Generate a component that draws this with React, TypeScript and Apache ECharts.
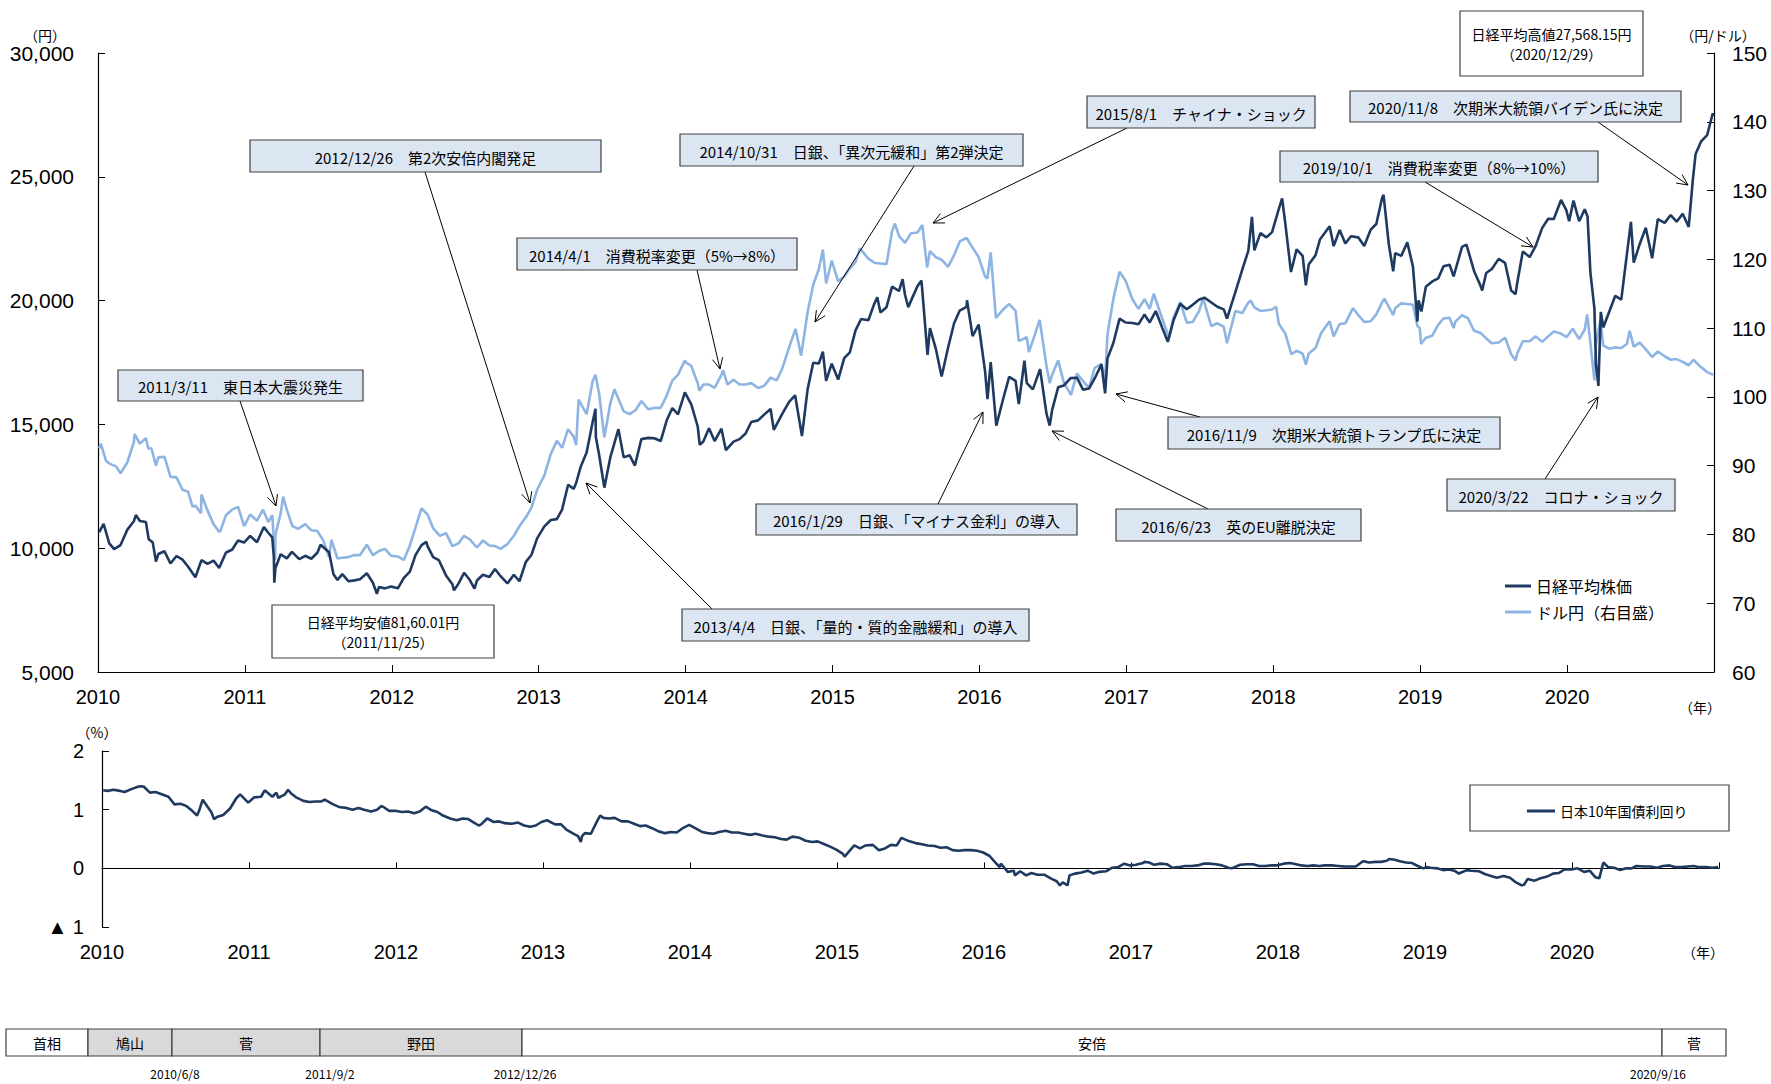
import React, { useEffect, useRef } from "react";
import * as echarts from "echarts";

// ---------------- DATA ----------------
const yearTicks = [2010, 2011, 2012, 2013, 2014, 2015, 2016, 2017, 2018, 2019, 2020];

const nikkei: [string, number][] = [
  ["2010-01-04", 10654], ["2010-01-15", 10982], ["2010-01-29", 10198], ["2010-02-10", 9963], ["2010-02-26", 10126],
  ["2010-03-15", 10751], ["2010-03-31", 11089], ["2010-04-05", 11339], ["2010-04-15", 11102], ["2010-04-30", 11057],
  ["2010-05-07", 10364], ["2010-05-17", 10235], ["2010-05-25", 9459], ["2010-05-31", 9768], ["2010-06-15", 9879],
  ["2010-06-30", 9382], ["2010-07-15", 9685], ["2010-07-30", 9537], ["2010-08-13", 9253], ["2010-08-31", 8824],
  ["2010-09-15", 9516], ["2010-09-30", 9369], ["2010-10-15", 9500], ["2010-10-29", 9202], ["2010-11-15", 9827],
  ["2010-11-30", 9937], ["2010-12-15", 10310], ["2010-12-30", 10229],
  ["2011-01-14", 10499], ["2011-01-31", 10238], ["2011-02-17", 10857], ["2011-02-28", 10624], ["2011-03-10", 10434],
  ["2011-03-14", 9620], ["2011-03-15", 8605], ["2011-03-18", 9207], ["2011-03-31", 9755], ["2011-04-15", 9591],
  ["2011-04-28", 9849], ["2011-05-16", 9558], ["2011-05-31", 9694], ["2011-06-15", 9574], ["2011-06-30", 9816],
  ["2011-07-08", 10137], ["2011-07-29", 9833], ["2011-08-09", 8944], ["2011-08-19", 8719], ["2011-08-31", 8955],
  ["2011-09-15", 8668], ["2011-09-30", 8700], ["2011-10-14", 8748], ["2011-10-31", 8988], ["2011-11-15", 8603],
  ["2011-11-25", 8160], ["2011-11-30", 8435], ["2011-12-15", 8377], ["2011-12-30", 8455],
  ["2012-01-16", 8378], ["2012-01-31", 8803], ["2012-02-15", 9052], ["2012-02-29", 9723], ["2012-03-15", 10123],
  ["2012-03-27", 10255], ["2012-03-30", 10084], ["2012-04-13", 9638], ["2012-04-27", 9521], ["2012-05-15", 8901],
  ["2012-05-31", 8543], ["2012-06-04", 8296], ["2012-06-15", 8569], ["2012-06-29", 9007], ["2012-07-13", 8725],
  ["2012-07-25", 8366], ["2012-07-31", 8695], ["2012-08-15", 8929], ["2012-08-31", 8840], ["2012-09-14", 9159],
  ["2012-09-28", 8870], ["2012-10-15", 8578], ["2012-10-31", 8928], ["2012-11-14", 8665], ["2012-11-30", 9446],
  ["2012-12-14", 9737], ["2012-12-28", 10395],
  ["2013-01-15", 10879], ["2013-01-31", 11139], ["2013-02-15", 11173], ["2013-02-28", 11559], ["2013-03-15", 12560],
  ["2013-03-29", 12398], ["2013-04-04", 12634], ["2013-04-15", 13275], ["2013-04-30", 13861], ["2013-05-15", 15096],
  ["2013-05-22", 15627], ["2013-05-23", 14484], ["2013-05-31", 13775], ["2013-06-13", 12445], ["2013-06-28", 13677],
  ["2013-07-18", 14809], ["2013-07-31", 13668], ["2013-08-15", 13752], ["2013-08-28", 13338], ["2013-09-13", 14405],
  ["2013-09-30", 14456], ["2013-10-15", 14441], ["2013-10-31", 14328], ["2013-11-15", 15166], ["2013-11-29", 15662],
  ["2013-12-13", 15403], ["2013-12-30", 16291],
  ["2014-01-15", 15809], ["2014-01-31", 14915], ["2014-02-05", 14181], ["2014-02-14", 14313], ["2014-02-28", 14841],
  ["2014-03-14", 14327], ["2014-03-31", 14828], ["2014-04-11", 13960], ["2014-04-30", 14304], ["2014-05-15", 14405],
  ["2014-05-30", 14632], ["2014-06-13", 15098], ["2014-06-30", 15162], ["2014-07-15", 15395], ["2014-07-31", 15621],
  ["2014-08-08", 14779], ["2014-08-29", 15425], ["2014-09-15", 15911], ["2014-09-30", 16174], ["2014-10-17", 14532],
  ["2014-10-31", 16414], ["2014-11-14", 17491], ["2014-11-28", 17460], ["2014-12-08", 17935], ["2014-12-16", 16756],
  ["2014-12-30", 17451],
  ["2015-01-15", 16809], ["2015-01-30", 17674], ["2015-02-13", 17913], ["2015-02-27", 18798], ["2015-03-13", 19254],
  ["2015-03-31", 19207], ["2015-04-15", 19886], ["2015-04-22", 20134], ["2015-04-30", 19520], ["2015-05-15", 19733],
  ["2015-05-29", 20563], ["2015-06-15", 20387], ["2015-06-24", 20868], ["2015-06-30", 20236], ["2015-07-08", 19737],
  ["2015-07-31", 20585], ["2015-08-10", 20808], ["2015-08-25", 17806], ["2015-08-31", 18890], ["2015-09-15", 18026],
  ["2015-09-29", 16931], ["2015-10-15", 18097], ["2015-10-30", 19083], ["2015-11-13", 19597], ["2015-11-30", 19747],
  ["2015-12-01", 20012], ["2015-12-15", 18565], ["2015-12-30", 19034],
  ["2016-01-15", 17147], ["2016-01-21", 16017], ["2016-01-29", 17518], ["2016-02-12", 14953], ["2016-02-29", 16027],
  ["2016-03-15", 16923], ["2016-03-31", 16759], ["2016-04-08", 15822], ["2016-04-22", 17572], ["2016-04-28", 16666],
  ["2016-05-13", 16412], ["2016-05-31", 17235], ["2016-06-16", 15434], ["2016-06-24", 14952], ["2016-06-30", 15576],
  ["2016-07-15", 16497], ["2016-07-29", 16569], ["2016-08-15", 16870], ["2016-08-31", 16887], ["2016-09-15", 16405],
  ["2016-09-30", 16450], ["2016-10-14", 16856], ["2016-10-31", 17425], ["2016-11-09", 16251], ["2016-11-15", 17668],
  ["2016-11-30", 18308], ["2016-12-15", 19274], ["2016-12-30", 19114],
  ["2017-01-16", 19095], ["2017-01-31", 19041], ["2017-02-15", 19437], ["2017-02-28", 19119], ["2017-03-15", 19577],
  ["2017-03-31", 18909], ["2017-04-14", 18335], ["2017-04-28", 19197], ["2017-05-15", 19869], ["2017-05-31", 19651],
  ["2017-06-15", 19831], ["2017-06-30", 20033], ["2017-07-14", 20118], ["2017-07-31", 19925], ["2017-08-15", 19753],
  ["2017-08-31", 19646], ["2017-09-08", 19275], ["2017-09-29", 20356], ["2017-10-16", 21255], ["2017-10-31", 22012],
  ["2017-11-09", 23382], ["2017-11-15", 22028], ["2017-11-30", 22725], ["2017-12-15", 22553], ["2017-12-29", 22765],
  ["2018-01-15", 23714], ["2018-01-23", 24124], ["2018-01-31", 23098], ["2018-02-14", 21154], ["2018-02-28", 22068],
  ["2018-03-15", 21804], ["2018-03-23", 20617], ["2018-03-30", 21454], ["2018-04-16", 21835], ["2018-04-27", 22468],
  ["2018-05-21", 23002], ["2018-05-31", 22202], ["2018-06-15", 22852], ["2018-06-29", 22305], ["2018-07-13", 22597],
  ["2018-07-31", 22554], ["2018-08-15", 22205], ["2018-08-31", 22865], ["2018-09-14", 23095], ["2018-09-28", 24120],
  ["2018-10-02", 24270], ["2018-10-15", 22271], ["2018-10-26", 21185], ["2018-10-31", 21920], ["2018-11-15", 21804],
  ["2018-11-30", 22351], ["2018-12-14", 21374], ["2018-12-25", 19155], ["2018-12-28", 20015],
  ["2019-01-04", 19562], ["2019-01-15", 20555], ["2019-01-31", 20773], ["2019-02-15", 20900], ["2019-02-28", 21385],
  ["2019-03-15", 21451], ["2019-03-25", 20977], ["2019-03-29", 21206], ["2019-04-15", 22169], ["2019-04-26", 22259],
  ["2019-05-15", 21189], ["2019-05-31", 20601], ["2019-06-04", 20409], ["2019-06-14", 21117], ["2019-06-28", 21276],
  ["2019-07-15", 21685], ["2019-07-31", 21522], ["2019-08-15", 20406], ["2019-08-26", 20261], ["2019-08-30", 20704],
  ["2019-09-13", 21988], ["2019-09-30", 21756], ["2019-10-15", 22208], ["2019-10-31", 22927], ["2019-11-15", 23303],
  ["2019-11-29", 23294], ["2019-12-17", 24066], ["2019-12-30", 23657],
  ["2020-01-06", 23205], ["2020-01-17", 24041], ["2020-01-31", 23205], ["2020-02-14", 23688], ["2020-02-21", 23387],
  ["2020-02-28", 21143], ["2020-03-09", 19699], ["2020-03-13", 17431], ["2020-03-19", 16553], ["2020-03-25", 19546],
  ["2020-03-31", 18917], ["2020-04-15", 19550], ["2020-04-30", 20194], ["2020-05-15", 20037], ["2020-05-29", 21878],
  ["2020-06-08", 23178], ["2020-06-15", 21530], ["2020-06-30", 22288], ["2020-07-15", 22945], ["2020-07-31", 21710],
  ["2020-08-14", 23289], ["2020-08-31", 23140], ["2020-09-15", 23455], ["2020-09-30", 23185], ["2020-10-15", 23507],
  ["2020-10-30", 22977], ["2020-11-09", 24839], ["2020-11-16", 25907], ["2020-11-30", 26434], ["2020-12-15", 26687],
  ["2020-12-29", 27568], ["2020-12-30", 27444],
];

const usdjpy: [string, number][] = [
  ["2010-01-04", 92.5], ["2010-01-08", 93.2], ["2010-01-21", 90.7], ["2010-01-29", 90.3], ["2010-02-15", 89.9],
  ["2010-02-26", 88.9], ["2010-03-15", 90.5], ["2010-03-31", 93.4], ["2010-04-02", 94.6], ["2010-04-15", 93.2],
  ["2010-04-30", 94.0], ["2010-05-06", 92.5], ["2010-05-14", 92.5], ["2010-05-25", 90.0], ["2010-05-31", 91.2],
  ["2010-06-15", 91.3], ["2010-06-30", 88.4], ["2010-07-15", 88.3], ["2010-07-30", 86.5], ["2010-08-13", 86.2],
  ["2010-08-24", 84.0], ["2010-08-31", 84.2], ["2010-09-14", 83.1], ["2010-09-15", 85.8], ["2010-09-30", 83.5],
  ["2010-10-15", 81.5], ["2010-10-29", 80.4], ["2010-11-01", 80.5], ["2010-11-15", 82.8], ["2010-11-30", 83.6],
  ["2010-12-15", 84.0], ["2010-12-30", 81.2],
  ["2011-01-14", 82.9], ["2011-01-31", 82.0], ["2011-02-15", 83.6], ["2011-02-28", 81.8], ["2011-03-10", 82.8],
  ["2011-03-17", 76.3], ["2011-03-18", 80.0], ["2011-03-31", 83.1], ["2011-04-06", 85.5], ["2011-04-15", 83.6],
  ["2011-04-29", 81.2], ["2011-05-13", 80.8], ["2011-05-31", 81.5], ["2011-06-15", 80.6], ["2011-06-30", 80.5],
  ["2011-07-15", 79.1], ["2011-07-29", 76.7], ["2011-08-04", 79.2], ["2011-08-19", 76.5], ["2011-08-31", 76.6],
  ["2011-09-15", 76.7], ["2011-09-30", 77.0], ["2011-10-14", 77.0], ["2011-10-31", 78.5], ["2011-11-15", 77.0],
  ["2011-11-30", 77.6], ["2011-12-15", 77.9], ["2011-12-30", 76.9],
  ["2012-01-16", 76.8], ["2012-01-31", 76.3], ["2012-02-15", 78.4], ["2012-02-29", 81.0], ["2012-03-15", 83.8],
  ["2012-03-30", 82.9], ["2012-04-13", 80.9], ["2012-04-30", 79.8], ["2012-05-15", 80.2], ["2012-05-31", 78.3],
  ["2012-06-15", 78.7], ["2012-06-29", 79.8], ["2012-07-13", 79.3], ["2012-07-31", 78.1], ["2012-08-15", 79.1],
  ["2012-08-31", 78.4], ["2012-09-14", 78.3], ["2012-09-28", 77.9], ["2012-10-15", 78.6], ["2012-10-31", 79.8],
  ["2012-11-15", 81.3], ["2012-11-30", 82.5], ["2012-12-14", 83.9], ["2012-12-28", 86.5],
  ["2013-01-15", 88.6], ["2013-01-31", 91.7], ["2013-02-15", 93.6], ["2013-02-28", 92.6], ["2013-03-15", 95.3],
  ["2013-03-29", 94.2], ["2013-04-04", 93.0], ["2013-04-10", 99.6], ["2013-04-30", 97.5], ["2013-05-15", 102.3],
  ["2013-05-22", 103.2], ["2013-05-31", 100.5], ["2013-06-13", 94.1], ["2013-06-28", 99.1], ["2013-07-08", 101.1],
  ["2013-07-31", 97.9], ["2013-08-15", 97.5], ["2013-08-30", 98.1], ["2013-09-13", 99.4], ["2013-09-30", 98.2],
  ["2013-10-15", 98.4], ["2013-10-31", 98.4], ["2013-11-15", 100.2], ["2013-11-29", 102.4], ["2013-12-13", 103.2],
  ["2013-12-30", 105.3],
  ["2014-01-02", 105.0], ["2014-01-15", 104.5], ["2014-01-31", 102.0], ["2014-02-04", 100.9], ["2014-02-14", 101.8],
  ["2014-02-28", 101.8], ["2014-03-14", 101.3], ["2014-03-31", 103.2], ["2014-04-04", 103.9], ["2014-04-15", 101.8],
  ["2014-04-30", 102.5], ["2014-05-15", 101.8], ["2014-05-30", 101.8], ["2014-06-13", 102.0], ["2014-06-30", 101.3],
  ["2014-07-15", 101.6], ["2014-07-31", 102.8], ["2014-08-15", 102.4], ["2014-08-29", 104.1], ["2014-09-15", 107.2],
  ["2014-09-30", 109.7], ["2014-10-01", 109.9], ["2014-10-15", 106.0], ["2014-10-31", 112.3], ["2014-11-14", 116.3],
  ["2014-11-28", 118.6], ["2014-12-08", 121.4], ["2014-12-16", 116.5], ["2014-12-30", 119.8],
  ["2015-01-15", 116.8], ["2015-01-30", 117.5], ["2015-02-13", 118.7], ["2015-02-27", 119.6], ["2015-03-10", 121.6],
  ["2015-03-31", 120.1], ["2015-04-15", 119.5], ["2015-04-30", 119.4], ["2015-05-15", 119.3], ["2015-05-29", 124.1],
  ["2015-06-05", 125.2], ["2015-06-15", 123.4], ["2015-06-30", 122.4], ["2015-07-15", 123.8], ["2015-07-31", 123.9],
  ["2015-08-12", 125.0], ["2015-08-24", 118.8], ["2015-08-31", 121.2], ["2015-09-15", 120.3], ["2015-09-30", 119.9],
  ["2015-10-15", 118.9], ["2015-10-30", 120.6], ["2015-11-13", 122.6], ["2015-11-30", 123.1], ["2015-12-15", 121.7],
  ["2015-12-30", 120.3],
  ["2016-01-15", 117.5], ["2016-01-21", 117.2], ["2016-01-29", 121.0], ["2016-02-11", 111.5], ["2016-02-29", 112.7],
  ["2016-03-15", 113.5], ["2016-03-31", 112.5], ["2016-04-08", 108.1], ["2016-04-28", 108.7], ["2016-05-03", 106.5],
  ["2016-05-15", 108.5], ["2016-05-30", 111.2], ["2016-06-16", 104.5], ["2016-06-24", 102.0], ["2016-06-30", 103.2],
  ["2016-07-15", 105.3], ["2016-07-29", 102.1], ["2016-08-16", 100.3], ["2016-08-31", 103.4], ["2016-09-15", 102.3],
  ["2016-09-30", 101.3], ["2016-10-14", 104.2], ["2016-10-31", 104.8], ["2016-11-09", 102.5], ["2016-11-15", 109.1],
  ["2016-11-30", 114.4], ["2016-12-15", 118.2], ["2016-12-30", 116.9],
  ["2017-01-16", 114.2], ["2017-01-31", 112.8], ["2017-02-15", 114.2], ["2017-02-28", 112.8], ["2017-03-10", 115.0],
  ["2017-03-31", 111.4], ["2017-04-17", 108.6], ["2017-04-28", 111.5], ["2017-05-15", 113.8], ["2017-05-31", 110.8],
  ["2017-06-15", 110.9], ["2017-06-30", 112.4], ["2017-07-11", 114.3], ["2017-07-31", 110.3], ["2017-08-15", 110.7],
  ["2017-08-31", 110.2], ["2017-09-08", 107.8], ["2017-09-29", 112.5], ["2017-10-16", 112.2], ["2017-10-31", 113.7],
  ["2017-11-06", 114.0], ["2017-11-15", 113.0], ["2017-11-30", 112.5], ["2017-12-15", 112.6], ["2017-12-29", 112.7],
  ["2018-01-08", 113.1], ["2018-01-15", 110.6], ["2018-01-31", 109.2], ["2018-02-15", 106.2], ["2018-02-28", 106.7],
  ["2018-03-15", 106.3], ["2018-03-23", 104.7], ["2018-03-30", 106.3], ["2018-04-16", 107.1], ["2018-04-30", 109.3],
  ["2018-05-21", 111.0], ["2018-05-31", 108.8], ["2018-06-15", 110.6], ["2018-06-29", 110.7], ["2018-07-18", 112.9],
  ["2018-07-31", 111.9], ["2018-08-15", 110.9], ["2018-08-31", 111.0], ["2018-09-14", 112.0], ["2018-09-28", 113.7],
  ["2018-10-04", 114.3], ["2018-10-26", 111.9], ["2018-10-31", 112.9], ["2018-11-15", 113.6], ["2018-11-30", 113.5],
  ["2018-12-14", 113.4], ["2018-12-25", 110.3], ["2018-12-31", 110.0],
  ["2019-01-03", 107.7], ["2019-01-15", 108.6], ["2019-01-31", 108.9], ["2019-02-15", 110.5], ["2019-02-28", 111.4],
  ["2019-03-15", 111.5], ["2019-03-25", 110.0], ["2019-03-29", 110.9], ["2019-04-15", 111.9], ["2019-04-30", 111.4],
  ["2019-05-15", 109.6], ["2019-05-31", 109.3], ["2019-06-14", 108.5], ["2019-06-28", 107.8], ["2019-07-15", 107.9],
  ["2019-07-31", 108.6], ["2019-08-15", 106.2], ["2019-08-26", 105.3], ["2019-08-30", 106.3], ["2019-09-13", 108.1],
  ["2019-09-30", 108.1], ["2019-10-15", 108.8], ["2019-10-31", 108.0], ["2019-11-15", 108.8], ["2019-11-29", 109.5],
  ["2019-12-13", 109.3], ["2019-12-31", 108.7],
  ["2020-01-15", 109.9], ["2020-01-31", 108.4], ["2020-02-14", 109.8], ["2020-02-20", 112.0], ["2020-02-28", 107.9],
  ["2020-03-09", 102.4], ["2020-03-13", 107.7], ["2020-03-24", 111.2], ["2020-03-31", 107.5], ["2020-04-15", 107.0],
  ["2020-04-30", 107.2], ["2020-05-15", 107.1], ["2020-05-29", 107.7], ["2020-06-05", 109.6], ["2020-06-15", 107.3],
  ["2020-06-30", 107.9], ["2020-07-15", 106.9], ["2020-07-31", 105.8], ["2020-08-14", 106.6], ["2020-08-31", 105.9],
  ["2020-09-15", 105.4], ["2020-09-30", 105.5], ["2020-10-15", 105.1], ["2020-10-30", 104.6], ["2020-11-11", 105.4],
  ["2020-11-30", 104.3], ["2020-12-15", 103.6], ["2020-12-30", 103.2],
];

const jgb10y: [string, number][] = [
  ["2010-01-04", 1.33], ["2010-01-15", 1.32], ["2010-01-29", 1.34], ["2010-02-15", 1.32], ["2010-02-26", 1.30],
  ["2010-03-15", 1.35], ["2010-03-31", 1.39], ["2010-04-08", 1.40], ["2010-04-15", 1.39], ["2010-04-30", 1.29],
  ["2010-05-14", 1.30], ["2010-05-31", 1.26], ["2010-06-15", 1.22], ["2010-06-30", 1.09], ["2010-07-15", 1.10],
  ["2010-07-30", 1.06], ["2010-08-13", 0.98], ["2010-08-25", 0.90], ["2010-08-31", 1.00], ["2010-09-08", 1.17],
  ["2010-09-15", 1.10], ["2010-09-30", 0.95], ["2010-10-06", 0.84], ["2010-10-15", 0.88], ["2010-10-29", 0.91],
  ["2010-11-15", 1.02], ["2010-11-30", 1.19], ["2010-12-10", 1.26], ["2010-12-30", 1.12],
  ["2011-01-14", 1.21], ["2011-01-31", 1.22], ["2011-02-09", 1.33], ["2011-02-28", 1.22], ["2011-03-10", 1.29],
  ["2011-03-15", 1.20], ["2011-03-31", 1.26], ["2011-04-08", 1.34], ["2011-04-15", 1.28], ["2011-04-28", 1.21],
  ["2011-05-16", 1.15], ["2011-05-31", 1.13], ["2011-06-15", 1.14], ["2011-06-30", 1.14], ["2011-07-08", 1.17],
  ["2011-07-29", 1.09], ["2011-08-15", 1.04], ["2011-08-31", 1.03], ["2011-09-15", 1.00], ["2011-09-30", 1.03],
  ["2011-10-14", 1.00], ["2011-10-31", 0.97], ["2011-11-15", 1.00], ["2011-11-25", 1.06], ["2011-11-30", 1.05],
  ["2011-12-15", 0.98], ["2011-12-30", 0.98],
  ["2012-01-16", 0.96], ["2012-01-31", 0.97], ["2012-02-15", 0.94], ["2012-02-29", 0.97], ["2012-03-15", 1.05],
  ["2012-03-30", 0.99], ["2012-04-13", 0.96], ["2012-04-27", 0.90], ["2012-05-15", 0.85], ["2012-05-31", 0.82],
  ["2012-06-15", 0.85], ["2012-06-29", 0.84], ["2012-07-13", 0.78], ["2012-07-25", 0.73], ["2012-07-31", 0.75],
  ["2012-08-15", 0.85], ["2012-08-31", 0.79], ["2012-09-14", 0.80], ["2012-09-28", 0.77], ["2012-10-15", 0.76],
  ["2012-10-31", 0.78], ["2012-11-15", 0.73], ["2012-11-30", 0.71], ["2012-12-14", 0.73], ["2012-12-28", 0.79],
  ["2013-01-11", 0.82], ["2013-01-31", 0.75], ["2013-02-15", 0.75], ["2013-02-28", 0.66], ["2013-03-15", 0.60],
  ["2013-03-29", 0.55], ["2013-04-05", 0.45], ["2013-04-08", 0.55], ["2013-04-15", 0.60], ["2013-04-30", 0.59],
  ["2013-05-15", 0.80], ["2013-05-23", 0.90], ["2013-05-31", 0.86], ["2013-06-13", 0.85], ["2013-06-28", 0.86],
  ["2013-07-15", 0.80], ["2013-07-31", 0.80], ["2013-08-15", 0.76], ["2013-08-30", 0.72], ["2013-09-13", 0.73],
  ["2013-09-30", 0.68], ["2013-10-15", 0.63], ["2013-10-31", 0.60], ["2013-11-15", 0.62], ["2013-11-29", 0.61],
  ["2013-12-13", 0.68], ["2013-12-30", 0.74],
  ["2014-01-15", 0.68], ["2014-01-31", 0.62], ["2014-02-14", 0.60], ["2014-02-28", 0.59], ["2014-03-14", 0.62],
  ["2014-03-31", 0.64], ["2014-04-15", 0.61], ["2014-04-30", 0.61], ["2014-05-15", 0.59], ["2014-05-30", 0.57],
  ["2014-06-13", 0.59], ["2014-06-30", 0.56], ["2014-07-15", 0.54], ["2014-07-31", 0.53], ["2014-08-15", 0.50],
  ["2014-08-29", 0.49], ["2014-09-12", 0.54], ["2014-09-30", 0.52], ["2014-10-15", 0.47], ["2014-10-31", 0.45],
  ["2014-11-14", 0.46], ["2014-11-28", 0.42], ["2014-12-15", 0.37], ["2014-12-30", 0.32],
  ["2015-01-15", 0.25], ["2015-01-20", 0.20], ["2015-01-30", 0.28], ["2015-02-13", 0.39], ["2015-02-27", 0.34],
  ["2015-03-13", 0.39], ["2015-03-31", 0.40], ["2015-04-15", 0.31], ["2015-04-30", 0.34], ["2015-05-15", 0.40],
  ["2015-05-29", 0.39], ["2015-06-10", 0.52], ["2015-06-30", 0.46], ["2015-07-15", 0.43], ["2015-07-31", 0.41],
  ["2015-08-14", 0.39], ["2015-08-31", 0.38], ["2015-09-15", 0.35], ["2015-09-30", 0.36], ["2015-10-15", 0.31],
  ["2015-10-30", 0.30], ["2015-11-13", 0.31], ["2015-11-30", 0.31], ["2015-12-15", 0.30], ["2015-12-30", 0.27],
  ["2016-01-15", 0.21], ["2016-01-29", 0.10], ["2016-02-09", 0.02], ["2016-02-12", 0.08], ["2016-02-29", -0.06],
  ["2016-03-15", -0.04], ["2016-03-18", -0.12], ["2016-03-31", -0.05], ["2016-04-15", -0.12], ["2016-04-28", -0.08],
  ["2016-05-13", -0.11], ["2016-05-31", -0.11], ["2016-06-15", -0.17], ["2016-06-24", -0.20], ["2016-06-30", -0.22],
  ["2016-07-08", -0.29], ["2016-07-15", -0.24], ["2016-07-27", -0.29], ["2016-08-01", -0.12], ["2016-08-15", -0.09],
  ["2016-08-31", -0.07], ["2016-09-15", -0.04], ["2016-09-30", -0.09], ["2016-10-14", -0.06], ["2016-10-31", -0.05],
  ["2016-11-15", 0.01], ["2016-11-30", 0.02], ["2016-12-15", 0.08], ["2016-12-30", 0.05],
  ["2017-01-13", 0.06], ["2017-01-31", 0.09], ["2017-02-03", 0.11], ["2017-02-15", 0.10], ["2017-02-28", 0.06],
  ["2017-03-15", 0.08], ["2017-03-31", 0.07], ["2017-04-14", 0.01], ["2017-04-28", 0.02], ["2017-05-15", 0.04],
  ["2017-05-31", 0.04], ["2017-06-15", 0.05], ["2017-06-30", 0.08], ["2017-07-14", 0.08], ["2017-07-31", 0.07],
  ["2017-08-15", 0.05], ["2017-08-31", 0.01], ["2017-09-08", 0.00], ["2017-09-29", 0.06], ["2017-10-16", 0.07],
  ["2017-10-31", 0.07], ["2017-11-15", 0.04], ["2017-11-30", 0.04], ["2017-12-15", 0.05], ["2017-12-29", 0.05],
  ["2018-01-15", 0.08], ["2018-01-31", 0.09], ["2018-02-15", 0.07], ["2018-02-28", 0.05], ["2018-03-15", 0.04],
  ["2018-03-30", 0.05], ["2018-04-13", 0.04], ["2018-04-27", 0.05], ["2018-05-15", 0.05], ["2018-05-31", 0.04],
  ["2018-06-15", 0.03], ["2018-06-29", 0.03], ["2018-07-13", 0.03], ["2018-07-31", 0.12], ["2018-08-02", 0.12],
  ["2018-08-15", 0.10], ["2018-08-31", 0.11], ["2018-09-14", 0.11], ["2018-09-28", 0.13], ["2018-10-04", 0.16],
  ["2018-10-15", 0.15], ["2018-10-31", 0.12], ["2018-11-15", 0.10], ["2018-11-30", 0.09], ["2018-12-14", 0.04],
  ["2018-12-28", 0.00],
  ["2019-01-04", 0.02], ["2019-01-15", 0.01], ["2019-01-31", 0.00], ["2019-02-15", -0.03], ["2019-02-28", -0.02],
  ["2019-03-15", -0.04], ["2019-03-26", -0.09], ["2019-03-29", -0.08], ["2019-04-15", -0.03], ["2019-04-26", -0.04],
  ["2019-05-15", -0.05], ["2019-05-31", -0.10], ["2019-06-14", -0.13], ["2019-06-28", -0.16], ["2019-07-15", -0.13],
  ["2019-07-31", -0.16], ["2019-08-15", -0.24], ["2019-08-29", -0.29], ["2019-09-04", -0.28], ["2019-09-13", -0.18],
  ["2019-09-30", -0.21], ["2019-10-15", -0.17], ["2019-10-31", -0.14], ["2019-11-15", -0.09], ["2019-11-29", -0.08],
  ["2019-12-13", -0.02], ["2019-12-31", -0.02],
  ["2020-01-15", 0.00], ["2020-01-31", -0.06], ["2020-02-14", -0.04], ["2020-02-28", -0.15], ["2020-03-09", -0.17],
  ["2020-03-19", 0.10], ["2020-03-31", 0.02], ["2020-04-15", 0.01], ["2020-04-30", -0.03], ["2020-05-15", 0.00],
  ["2020-05-29", 0.00], ["2020-06-09", 0.04], ["2020-06-30", 0.03], ["2020-07-15", 0.03], ["2020-07-31", 0.01],
  ["2020-08-14", 0.04], ["2020-08-31", 0.05], ["2020-09-15", 0.02], ["2020-09-30", 0.02], ["2020-10-15", 0.03],
  ["2020-10-30", 0.04], ["2020-11-13", 0.02], ["2020-11-30", 0.02], ["2020-12-15", 0.01], ["2020-12-30", 0.02],
];

const seriesNames = ["日経平均株価", "ドル円（右目盛）", "日本10年国債利回り"];

const eventTexts = [
  "2012/12/26　第2次安倍内閣発足",
  "2014/10/31　日銀、「異次元緩和」第2弾決定",
  "2015/8/1　チャイナ・ショック",
  "2020/11/8　次期米大統領バイデン氏に決定",
  "2019/10/1　消費税率変更（8%→10%）",
  "2014/4/1　消費税率変更（5%→8%）",
  "2011/3/11　東日本大震災発生",
  "2016/11/9　次期米大統領トランプ氏に決定",
  "2020/3/22　コロナ・ショック",
  "2016/1/29　日銀、「マイナス金利」の導入",
  "2016/6/23　英のEU離脱決定",
  "2013/4/4　日銀、「量的・質的金融緩和」の導入",
];
const noteTexts = [
  ["日経平均高値27,568.15円", "（2020/12/29）"],
  ["日経平均安値81,60.01円", "（2011/11/25）"],
];

const pmNames = ["首相", "鳩山", "菅", "野田", "安倍", "菅"];
const pmDates = ["2010/6/8", "2011/9/2", "2012/12/26", "2020/9/16"];

// ---------------- LAYOUT (pixels) ----------------
const eventBoxes = [
  [250, 140, 351, 32], [680, 134, 343, 32], [1087, 96, 228, 32], [1350, 91, 331, 31],
  [1280, 151, 318, 31], [517, 238, 280, 32], [118, 370, 245, 31], [1168, 417, 332, 32],
  [1447, 479, 228, 32], [756, 504, 321, 31], [1116, 509, 245, 32], [682, 609, 347, 32],
];
const eventArrows = [
  [425, 172, 530, 503], [914, 166, 815, 322], [1127, 128, 933, 223], [1598, 122, 1688, 185],
  [1425, 182, 1533, 247], [697, 270, 720, 369], [240, 401, 276, 506], [1200, 417, 1116, 394],
  [1545, 479, 1598, 397], [938, 504, 983, 412], [1208, 509, 1052, 431], [712, 609, 586, 483],
];
const noteBoxes = [[1460, 11, 183, 65], [272, 605, 222, 53]];
const pmEdges = [6, 88, 172, 320, 522, 1662, 1726];
const pmFill = ["#ffffff", "#d9d9d9", "#d9d9d9", "#d9d9d9", "#ffffff", "#ffffff"];
const pmDateX = [175, 330, 525, 1658];

const DARK = "#1f3a60";
const LIGHT = "#8db4e2";
const JP = "'Noto Sans CJK JP', 'Noto Sans', sans-serif";
const LAT = "'Liberation Sans', Arial, sans-serif";

function yearFrac(d: string): number {
  const [y, m, dd] = d.split("-").map(Number);
  const s = Date.UTC(y, 0, 1);
  const e = Date.UTC(y + 1, 0, 1);
  return y + (Date.UTC(y, m - 1, dd) - s) / (e - s);
}

function arrowHead(x1: number, y1: number, x2: number, y2: number): number[][] {
  const ang = Math.atan2(y2 - y1, x2 - x1);
  const L = 12;
  const a = Math.PI / 7;
  return [
    [x2 - L * Math.cos(ang - a), y2 - L * Math.sin(ang - a)],
    [x2, y2],
    [x2 - L * Math.cos(ang + a), y2 - L * Math.sin(ang + a)],
  ];
}

function buildGraphics(): any[] {
  const g: any[] = [];
  const unit = (text: string, x: number, y: number, size = 14) =>
    g.push({
      type: "text", x, y, z: 100,
      style: { text, fill: "#000", font: `${size}px ${JP}`, textAlign: "center", textVerticalAlign: "middle" },
    });
  unit("（円）", 45, 35);
  unit("（円/ドル）", 1718, 35);
  unit("（年）", 1700, 707);
  unit("（%）", 97, 732);
  unit("（年）", 1703, 952);

  eventArrows.forEach(([x1, y1, x2, y2]) => {
    g.push({ type: "line", z: 99, shape: { x1, y1, x2, y2 }, style: { stroke: "#000", lineWidth: 1 } });
    g.push({ type: "polyline", z: 99, shape: { points: arrowHead(x1, y1, x2, y2) }, style: { stroke: "#000", lineWidth: 1, fill: null } });
  });

  eventBoxes.forEach(([x, y, w, h], i) => {
    g.push({
      type: "rect", z: 100, shape: { x, y, width: w, height: h },
      style: { fill: "#dce6f2", stroke: "#404040", lineWidth: 1.2 },
    });
    g.push({
      type: "text", z: 101, x: x + w / 2, y: y + h / 2 + 1,
      style: { text: eventTexts[i], fill: "#000", font: `15px ${JP}`, textAlign: "center", textVerticalAlign: "middle" },
    });
  });

  noteBoxes.forEach(([x, y, w, h], i) => {
    g.push({
      type: "rect", z: 100, shape: { x, y, width: w, height: h },
      style: { fill: "#ffffff", stroke: "#404040", lineWidth: 1.2 },
    });
    g.push({
      type: "text", z: 101, x: x + w / 2, y: y + h / 2 - 10,
      style: { text: noteTexts[i][0], fill: "#000", font: `14px ${JP}`, textAlign: "center", textVerticalAlign: "middle" },
    });
    g.push({
      type: "text", z: 101, x: x + w / 2, y: y + h / 2 + 10,
      style: { text: noteTexts[i][1], fill: "#000", font: `14px ${JP}`, textAlign: "center", textVerticalAlign: "middle" },
    });
  });

  // bottom legend frame (drawn beneath the legend)
  g.push({
    type: "rect", z: -10, shape: { x: 1470, y: 785, width: 259, height: 46 },
    style: { fill: "#ffffff", stroke: "#404040", lineWidth: 1.2 },
  });

  // prime minister bar
  const barY = 1029;
  const barH = 27;
  pmNames.forEach((name, i) => {
    const x0 = pmEdges[i];
    const x1 = pmEdges[i + 1];
    g.push({
      type: "rect", z: 100, shape: { x: x0, y: barY, width: x1 - x0, height: barH },
      style: { fill: pmFill[i], stroke: "#404040", lineWidth: 1.2 },
    });
    g.push({
      type: "text", z: 101, x: (x0 + x1) / 2, y: barY + barH / 2,
      style: { text: name, fill: "#000", font: `14px ${JP}`, textAlign: "center", textVerticalAlign: "middle" },
    });
  });
  pmDates.forEach((d, i) => {
    g.push({
      type: "text", z: 101, x: pmDateX[i], y: 1073,
      style: { text: d, fill: "#000", font: `12px ${JP}`, textAlign: "center", textVerticalAlign: "middle" },
    });
  });
  return g;
}

export default function App() {
  const ref = useRef<HTMLDivElement>(null);
  useEffect(() => {
    if (!ref.current) return;
    const chart = echarts.init(ref.current, undefined, { renderer: "svg" });
    const yearFmt = (v: number) => (v >= 2021 ? "" : String(v));
    const axisLineStyle = { color: "#000", width: 1.2 };
    const option: any = {
      animation: false,
      backgroundColor: "#ffffff",
      grid: [
        { left: 98, top: 53, width: 1616, height: 619, containLabel: false, outerBoundsMode: "none" },
        { left: 102, top: 751, width: 1617, height: 176, containLabel: false, outerBoundsMode: "none" },
      ],
      legend: [
        {
          data: [seriesNames[0], seriesNames[1]],
          orient: "vertical", left: 1500, top: 573, itemGap: 10,
          itemWidth: 26, itemHeight: 3, icon: "rect", z: 20,
          textStyle: { fontSize: 16, fontFamily: JP, color: "#000" },
        },
        {
          data: [seriesNames[2]],
          left: 1522, top: 799, itemWidth: 28, itemHeight: 3, icon: "rect", z: 200, zlevel: 0,
          textStyle: { fontSize: 14, fontFamily: JP, color: "#000" },
        },
      ],
      xAxis: [
        {
          type: "value", gridIndex: 0, min: 2010, max: 2021, interval: 1, position: "bottom",
          axisLine: { show: true, onZero: false, lineStyle: axisLineStyle },
          axisTick: { show: true, inside: true, length: 7, lineStyle: { color: "#000" } },
          axisLabel: { formatter: yearFmt, fontSize: 20, fontFamily: LAT, color: "#000", margin: 15 },
          splitLine: { show: false },
        },
        {
          type: "value", gridIndex: 1, min: 2010, max: 2021, interval: 1, position: "bottom",
          axisLine: { show: false, onZero: false },
          axisTick: { show: false },
          axisLabel: { formatter: yearFmt, fontSize: 20, fontFamily: LAT, color: "#000", margin: 15 },
          splitLine: { show: false },
        },
        {
          type: "value", gridIndex: 1, min: 2010, max: 2021, interval: 1, position: "top",
          axisLine: { show: true, onZero: true, lineStyle: axisLineStyle },
          axisTick: { show: true, inside: false, length: 6, lineStyle: { color: "#000" } },
          axisLabel: { show: false },
          splitLine: { show: false },
        },
      ],
      yAxis: [
        {
          type: "value", gridIndex: 0, min: 5000, max: 30000, interval: 5000, position: "left",
          axisLine: { show: true, onZero: false, lineStyle: axisLineStyle },
          axisTick: { show: true, inside: true, length: 7, lineStyle: { color: "#000" } },
          axisLabel: {
            formatter: (v: number) => v.toLocaleString("en-US"),
            fontSize: 21, fontFamily: LAT, color: "#000", margin: 24,
          },
          splitLine: { show: false },
        },
        {
          type: "value", gridIndex: 0, min: 60, max: 150, interval: 10, position: "right",
          axisLine: { show: true, onZero: false, lineStyle: axisLineStyle },
          axisTick: { show: true, inside: true, length: 7, lineStyle: { color: "#000" } },
          axisLabel: { fontSize: 21, fontFamily: LAT, color: "#000", margin: 18 },
          splitLine: { show: false },
        },
        {
          type: "value", gridIndex: 1, min: -1, max: 2, interval: 1, position: "left",
          axisLine: { show: true, onZero: false, lineStyle: axisLineStyle },
          axisTick: { show: true, inside: true, length: 7, lineStyle: { color: "#000" } },
          axisLabel: {
            formatter: (v: number) => (v < 0 ? "▲ " + Math.abs(v) : String(v)),
            fontSize: 20, fontFamily: LAT, color: "#000", margin: 18,
          },
          splitLine: { show: false },
        },
      ],
      series: [
        {
          name: seriesNames[1], type: "line", xAxisIndex: 0, yAxisIndex: 1, z: 2,
          data: usdjpy.map(([d, v]) => [yearFrac(d), v]),
          showSymbol: false, symbol: "none",
          lineStyle: { color: LIGHT, width: 2.6 }, itemStyle: { color: LIGHT },
        },
        {
          name: seriesNames[0], type: "line", xAxisIndex: 0, yAxisIndex: 0, z: 3,
          data: nikkei.map(([d, v]) => [yearFrac(d), v]),
          showSymbol: false, symbol: "none",
          lineStyle: { color: DARK, width: 2.6 }, itemStyle: { color: DARK },
        },
        {
          name: seriesNames[2], type: "line", xAxisIndex: 1, yAxisIndex: 2, z: 3,
          data: jgb10y.map(([d, v]) => [yearFrac(d), v]),
          showSymbol: false, symbol: "none",
          lineStyle: { color: DARK, width: 2.6 }, itemStyle: { color: DARK },
        },
      ],
      graphic: { elements: buildGraphics() },
    };
    chart.setOption(option);
    return () => chart.dispose();
  }, []);
  return (
    <div
      ref={ref}
      style={{ position: "fixed", left: 0, top: 0, width: 1771, height: 1084, background: "#fff" }}
    />
  );
}
